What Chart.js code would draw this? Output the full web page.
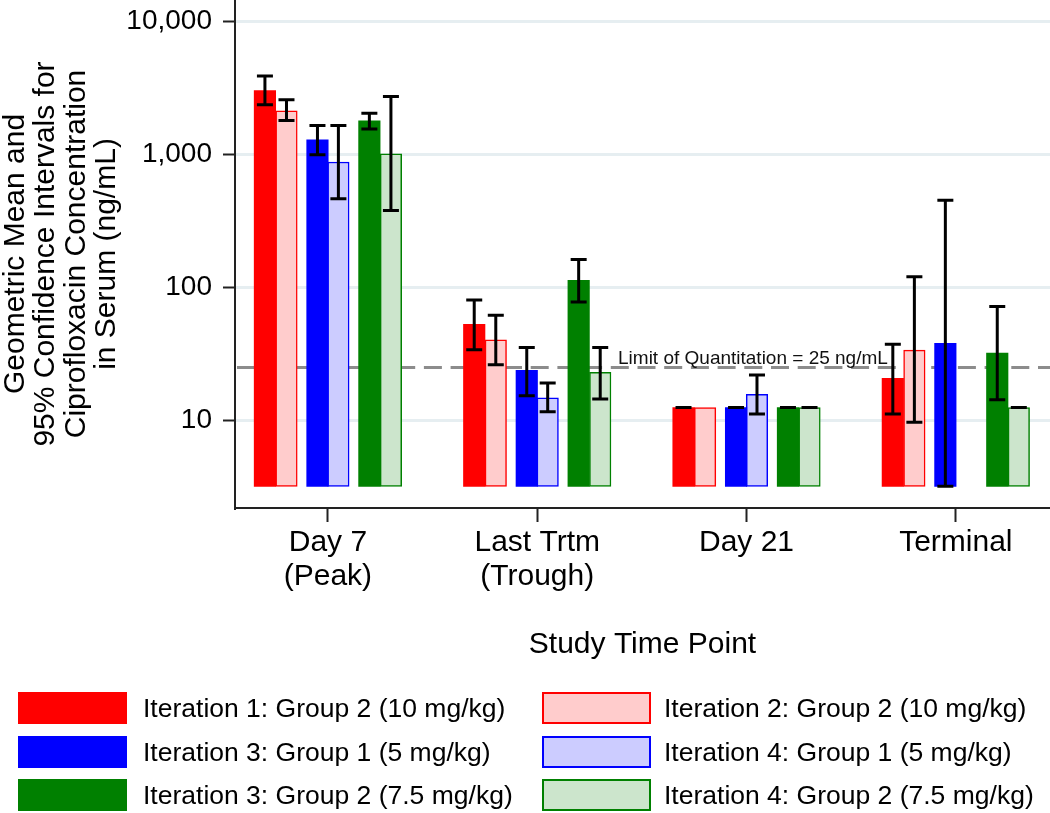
<!DOCTYPE html>
<html><head><meta charset="utf-8">
<script src="https://cdn.jsdelivr.net/npm/chart.js@4.4.1/dist/chart.umd.min.js"></script>
<style>
html,body{margin:0;padding:0;background:#fff;}
#wrap{position:relative;width:1050px;height:813px;overflow:hidden;}
#c{position:absolute;left:0;top:0;}
#legend{position:absolute;left:0;top:0;width:1050px;height:813px;font-family:"Liberation Sans",Arial,sans-serif;}
.box{position:absolute;width:109px;height:32px;box-sizing:border-box;}
.txt{position:absolute;height:32px;line-height:32px;font-size:26.5px;color:#000;white-space:nowrap;}
</style></head>
<body><div id="wrap"><canvas id="c" width="1050" height="813"></canvas><div id="legend"></div></div>
<script>
// ---- data ----
const categories = [["Day 7", "(Peak)"], ["Last Trtm", "(Trough)"], ["Day 21"], ["Terminal"]];
const yTickValues = [10, 100, 1000, 10000];
const loqValue = 25;
const loqLabel = "Limit of Quantitation = 25 ng/mL";

const seriesLabels = [
  "Iteration 1: Group 2 (10 mg/kg)",
  "Iteration 2: Group 2 (10 mg/kg)",
  "Iteration 3: Group 1 (5 mg/kg)",
  "Iteration 4: Group 1 (5 mg/kg)",
  "Iteration 3: Group 2 (7.5 mg/kg)",
  "Iteration 4: Group 2 (7.5 mg/kg)"
];

const it1g2Mean  = [3000, 52.6, 12.5, 20.7];
const it1g2Lower = [2345, 33.9, 12.5, 11.2];
const it1g2Upper = [3870, 80.3, 12.5, 37.4];

const it2g2Mean  = [2115, 40.3, 12.5, 33.7];
const it2g2Lower = [1790, 26.2, null, 9.7];
const it2g2Upper = [2557, 61.7, null, 120];

const it3g1Mean  = [1282, 23.8, 12.5, 38];
const it3g1Lower = [990, 15.3, 12.5, 3.2];
const it3g1Upper = [1641, 35.3, 12.5, 451];

const it4g1Mean  = [873, 14.8, 15.7, null];
const it4g1Lower = [463, 11.6, 11.2, null];
const it4g1Upper = [1641, 19.1, 21.9, null];

const it3g2Mean  = [1780, 112.8, 12.5, 32];
const it3g2Lower = [1542, 77.6, 12.5, 14.3];
const it3g2Upper = [2032, 162, 12.5, 71.6];

const it4g2Mean  = [1007, 23, 12.5, 12.5];
const it4g2Lower = [377, 14.5, 12.5, 12.5];
const it4g2Upper = [2710, 35.3, 12.5, 12.5];

const means  = [it1g2Mean, it2g2Mean, it3g1Mean, it4g1Mean, it3g2Mean, it4g2Mean];
const lowers = [it1g2Lower, it2g2Lower, it3g1Lower, it4g1Lower, it3g2Lower, it4g2Lower];
const uppers = [it1g2Upper, it2g2Upper, it3g1Upper, it4g1Upper, it3g2Upper, it4g2Upper];

// ---- styles ----
const FONT = "'Liberation Sans', Arial, sans-serif";
const fills   = ["#ff0000", "#ffcccc", "#0000ff", "#ccccff", "#008000", "#cce5cc"];
const borders = ["#ff0000", "#ff0000", "#0000ff", "#0000ff", "#008000", "#008000"];
const borderW = [0, 1.5, 0, 1.5, 0, 1.5];
const offsets = [-0.301, -0.198, -0.050, 0.050, 0.198, 0.301]; // within-category position (category units)
const barBase = 3.2;

const datasets = means.map((vals, d) => ({
  label: seriesLabels[d],
  data: vals.map((v, i) => ({ x: i + offsets[d], y: v })),
  backgroundColor: fills[d],
  borderColor: borders[d],
  borderWidth: borderW[d],
  borderSkipped: false,
  barThickness: 21.5,
  grouped: false,
  base: barBase
}));

const errorBars = {
  id: 'errorBars',
  afterDatasetsDraw(chart) {
    const ctx = chart.ctx, y = chart.scales.y;
    ctx.save();
    ctx.strokeStyle = '#000';
    ctx.lineWidth = 3;
    datasets.forEach((ds, d) => {
      const meta = chart.getDatasetMeta(d);
      meta.data.forEach((bar, i) => {
        const lo = lowers[d][i], hi = uppers[d][i];
        if (lo == null || hi == null) return;
        const yl = y.getPixelForValue(lo), yh = y.getPixelForValue(hi);
        const x = bar.x, hw = 8;
        ctx.beginPath();
        ctx.moveTo(x, yl); ctx.lineTo(x, yh);
        ctx.moveTo(x - hw, yl); ctx.lineTo(x + hw, yl);
        ctx.moveTo(x - hw, yh); ctx.lineTo(x + hw, yh);
        ctx.stroke();
      });
    });
    ctx.restore();
  }
};

const loqLine = {
  id: 'loqLine',
  beforeDatasetsDraw(chart) {
    const ctx = chart.ctx, y = chart.scales.y, x = chart.scales.x, a = chart.chartArea;
    const py = y.getPixelForValue(loqValue);
    ctx.save();
    ctx.strokeStyle = '#8c8c8c';
    ctx.lineWidth = 3;
    ctx.setLineDash([18, 8.7]);
    ctx.beginPath();
    ctx.moveTo(a.left + 2, py); ctx.lineTo(a.right, py);
    ctx.stroke();
    ctx.setLineDash([]);
    ctx.fillStyle = '#111';
    ctx.font = "19px " + FONT;
    ctx.textAlign = 'left';
    ctx.textBaseline = 'alphabetic';
    ctx.fillText(loqLabel, x.getPixelForValue(1.386), py - 3.5);
    ctx.restore();
  }
};

new Chart(document.getElementById('c'), {
  type: 'bar',
  data: { datasets },
  options: {
    responsive: false,
    animation: false,
    layout: { padding: { left: 0, right: 0, top: 0, bottom: 145 } },
    plugins: { legend: { display: false }, tooltip: { enabled: false } },
    scales: {
      x: {
        type: 'linear',
        offset: false,
        min: -0.444, max: 3.45,
        afterBuildTicks: s => { s.ticks = categories.map((c, i) => ({ value: i })); },
        afterFit: s => { s.height = 160; s.paddingLeft = 0; s.paddingRight = 0; },
        ticks: {
          autoSkip: false, maxRotation: 0, minRotation: 0, padding: 4,
          color: '#000',
          font: { family: FONT, size: 30, lineHeight: 1.13 },
          callback: v => categories[Math.round(v)]
        },
        grid: { display: true, offset: false, drawOnChartArea: false, drawTicks: true, tickLength: 14, tickColor: '#222', tickWidth: 2 },
        border: { display: true, color: '#222', width: 2 },
        title: { display: true, text: 'Study Time Point', color: '#000', font: { family: FONT, size: 30, lineHeight: 1.2 }, padding: { top: 0, bottom: 5.5 } }
      },
      y: {
        type: 'logarithmic',
        min: 2.2, max: 14380,
        afterBuildTicks: s => { s.ticks = yTickValues.map(v => ({ value: v })); },
        afterFit: s => { s.width = 235; s.paddingTop = 0; s.paddingBottom = 0; },
        ticks: {
          padding: 11, color: '#000',
          font: { family: FONT, size: 28 },
          callback: v => Number(v).toLocaleString('en-US')
        },
        grid: { color: '#e6eef1', lineWidth: 3, drawTicks: true, tickLength: 12, tickColor: '#222', tickWidth: 2 },
        border: { display: true, color: '#222', width: 2 },
        title: {
          display: true,
          text: ["Geometric Mean and", "95% Confidence Intervals for", "Ciprofloxacin Concentration", "in Serum (ng/mL)"],
          color: '#000',
          font: { family: FONT, size: 30, lineHeight: 1.02 },
          padding: { top: 0, bottom: 0 }
        }
      }
    }
  },
  plugins: [loqLine, errorBars]
});

// ---- legend (HTML, built from the dataset labels) ----
const legend = document.getElementById('legend');
const rowTops = [692, 736, 779];
const colBox = [18, 542];
const colTxt = [143, 664];
seriesLabels.forEach((lab, d) => {
  const row = Math.floor(d / 2), col = d % 2;
  const b = document.createElement('div');
  b.className = 'box';
  b.style.left = colBox[col] + 'px';
  b.style.top = rowTops[row] + 'px';
  b.style.background = fills[d];
  b.style.border = (borderW[d] ? 2 : 1) + 'px solid ' + borders[d];
  legend.appendChild(b);
  const t = document.createElement('div');
  t.className = 'txt';
  t.style.left = colTxt[col] + 'px';
  t.style.top = rowTops[row] + 'px';
  t.textContent = lab;
  legend.appendChild(t);
});
</script>
</body></html>
